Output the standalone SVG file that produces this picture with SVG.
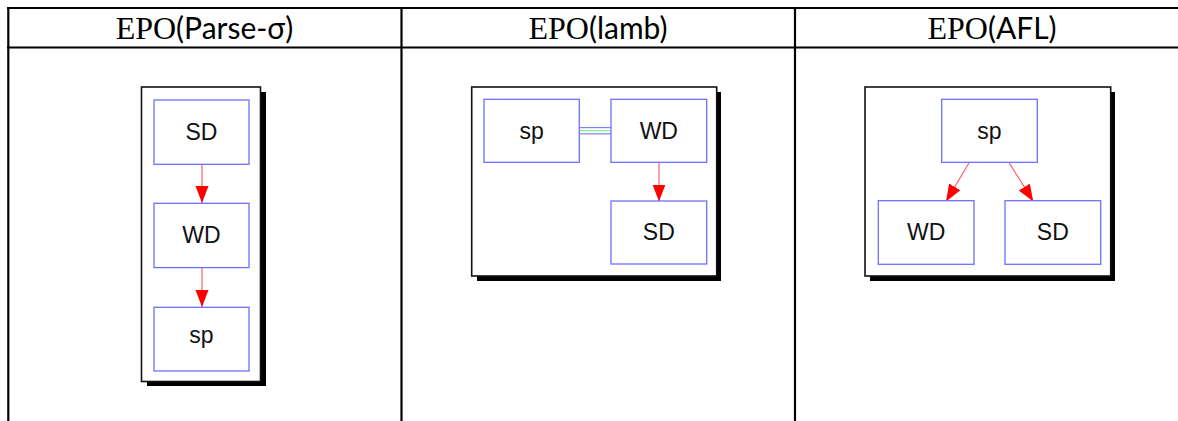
<svg xmlns="http://www.w3.org/2000/svg" width="1178" height="421" viewBox="0 0 1178 421">
<style>
.grid{stroke:#000;stroke-width:2.2;fill:none}
.hdr{text-anchor:middle;fill:#000}
.serif{font-family:"Liberation Serif",serif;font-size:32px}
.sans{font-family:Lato,"Open Sans",sans-serif;font-size:30px}
.frame{fill:#fff;stroke:#111;stroke-width:1.6}
.shadow{fill:#000}
.node rect{fill:#fff;stroke:#6f6fff;stroke-width:1.3}
.node text{font-family:"Liberation Sans",Arial,sans-serif;font-size:23px;text-anchor:middle;fill:#111}
.edge{stroke:#ff6060;stroke-width:1.2;fill:none}
.blue{stroke:#8080ff;stroke-width:1.2}
.green{stroke:#80ee80;stroke-width:1.2}
</style>
<defs>
<marker id="ah" markerUnits="userSpaceOnUse" markerWidth="18" markerHeight="14" refX="17" refY="6.5" orient="auto" viewBox="0 0 18 14">
<path d="M0,0 L17,6.5 L0,13 Z" fill="#ff0000"/>
</marker>
</defs>
<rect width="1178" height="421" fill="#fff"/>
<g id="table">
<line class="grid" x1="7" y1="8" x2="1178" y2="8"/>
<line class="grid" x1="7" y1="47.5" x2="1178" y2="47.5"/>
<line class="grid" x1="8.3" y1="7" x2="8.3" y2="421"/>
<line class="grid" x1="401.5" y1="7" x2="401.5" y2="421"/>
<line class="grid" x1="795" y1="7" x2="795" y2="421"/>
<text class="hdr" x="204.5" y="38.5"><tspan class="serif">EPO</tspan><tspan class="sans">(Parse-σ)</tspan></text>
<text class="hdr" x="598" y="38.5"><tspan class="serif">EPO</tspan><tspan class="sans">(lamb)</tspan></text>
<text class="hdr" x="992" y="38.5"><tspan class="serif">EPO</tspan><tspan class="sans">(AFL)</tspan></text>
</g>
<g id="frames">
<rect class="shadow" x="147" y="92" width="119" height="294"/>
<rect class="frame" x="141.5" y="87" width="119" height="294.5"/>
<rect class="shadow" x="477" y="92" width="244" height="189"/>
<rect class="frame" x="471.7" y="87" width="245" height="189"/>
<rect class="shadow" x="870" y="92" width="245" height="189"/>
<rect class="frame" x="865" y="87" width="245.7" height="189"/>
</g>
<g id="connectors">
<line class="edge" x1="202" y1="164.5" x2="202" y2="203" marker-end="url(#ah)"/>
<line class="edge" x1="202" y1="267.5" x2="202" y2="307" marker-end="url(#ah)"/>
<line class="blue" x1="579.5" y1="127.6" x2="611" y2="127.6"/>
<line class="green" x1="579.5" y1="130.7" x2="611" y2="130.7"/>
<line class="blue" x1="579.5" y1="133.8" x2="611" y2="133.8"/>
<line class="edge" x1="659" y1="162.5" x2="659" y2="201.5" marker-end="url(#ah)"/>
<line class="edge" x1="969.3" y1="162.5" x2="946" y2="201.5" marker-end="url(#ah)"/>
<line class="edge" x1="1009" y1="162.5" x2="1033.3" y2="201.5" marker-end="url(#ah)"/>
</g>
<g id="p1-SD" class="node"><rect x="154" y="100" width="95" height="64.3"/><text x="201.5" y="140">SD</text></g>
<g id="p1-WD" class="node"><rect x="154" y="203.3" width="95" height="64.3"/><text x="201.5" y="243">WD</text></g>
<g id="p1-sp" class="node"><rect x="154" y="307.3" width="95" height="63.7"/><text x="201.5" y="343">sp</text></g>
<g id="p2-sp" class="node"><rect x="484" y="99.3" width="95.3" height="63"/><text x="531.7" y="139">sp</text></g>
<g id="p2-WD" class="node"><rect x="611" y="99.3" width="95.7" height="63"/><text x="658.8" y="139">WD</text></g>
<g id="p2-SD" class="node"><rect x="611" y="201" width="95.7" height="63"/><text x="658.8" y="240">SD</text></g>
<g id="p3-sp" class="node"><rect x="941.7" y="99.3" width="95.6" height="63"/><text x="989.5" y="139">sp</text></g>
<g id="p3-WD" class="node"><rect x="878.3" y="200.7" width="95.7" height="63.6"/><text x="926.2" y="240">WD</text></g>
<g id="p3-SD" class="node"><rect x="1005" y="200.7" width="95.7" height="63.6"/><text x="1052.8" y="240">SD</text></g>
</svg>
